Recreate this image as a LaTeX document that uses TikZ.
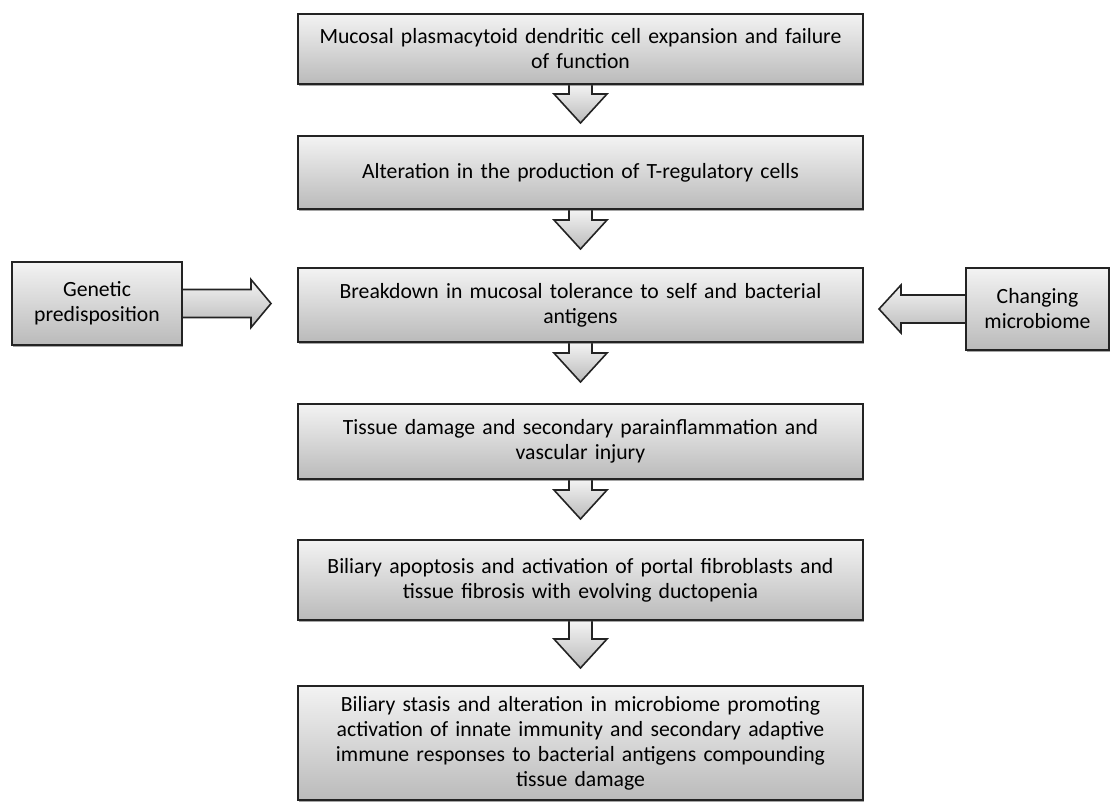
\documentclass[tikz,border=0pt]{standalone}
\usepackage{fontspec}
\setmainfont{Carlito}
\usepackage{xcolor}
\usepackage{tikz}
\usetikzlibrary{calc,backgrounds,shadows}
\definecolor{flow_edge}{RGB}{35, 35, 35}
\definecolor{flow_top}{RGB}{243, 243, 243}
\definecolor{flow_bottom}{RGB}{186, 186, 186}
\tikzset{
  flowbox/.style={draw=flow_edge, line width=2pt, top color=flow_top,
                  bottom color=flow_bottom, text width=548pt, align=center,
                  minimum width=565pt, inner sep=0pt,
                  drop shadow={shadow xshift=1pt, shadow yshift=-1.5pt,
                               fill=black!70, opacity=0.5},
                  font=\fontsize{21.7}{25}\selectfont},
  sidebox/.style={draw=flow_edge, line width=2pt, top color=flow_top,
                  bottom color=flow_bottom, align=center, inner sep=0pt,
                  drop shadow={shadow xshift=1pt, shadow yshift=-1.5pt,
                               fill=black!70, opacity=0.5},
                  font=\fontsize{21.7}{25}\selectfont},
  blockarrow/.style={draw=flow_edge, line width=1.6pt, top color=flow_top,
                     bottom color=flow_bottom, line join=miter}
}
\begin{document}
\begin{tikzpicture}[x=1pt, y=-1pt]
  \useasboundingbox (0,0) rectangle (1112,803);
  % main chain
  \node[flowbox, minimum height=70pt] (mucosal) at (580.5,49) {
    Mucosal plasmacytoid dendritic cell expansion and failure\\
    of function};
  \node[flowbox, minimum height=73pt] (treg) at (580.5,172.5) {
    Alteration in the production of T-regulatory cells};
  \node[flowbox, minimum height=74pt] (tolerance) at (580.5,305) {
    Breakdown in mucosal tolerance to self and bacterial\\
    antigens};
  \node[flowbox, minimum height=75pt] (damage) at (580.5,441.5) {
    Tissue damage and secondary parainflammation and\\
    vascular injury};
  \node[flowbox, minimum height=80pt] (apoptosis) at (580.5,580) {
    Biliary apoptosis and activation of portal fibroblasts and\\
    tissue fibrosis with evolving ductopenia};
  \node[flowbox, minimum height=114pt] (stasis) at (580.5,743) {
    Biliary stasis and alteration in microbiome promoting\\
    activation of innate immunity and secondary adaptive\\
    immune responses to bacterial antigens compounding\\
    tissue damage};
  % side inputs
  \node[sidebox, minimum width=170pt, minimum height=83pt] (genetic) at (97,303.5) {
    Genetic\\predisposition};
  \node[sidebox, minimum width=143pt, minimum height=82pt] (microbiome) at (1037.5,309) {
    Changing\\microbiome};
  \begin{scope}[on background layer]
    \foreach \a/\b/\len in {mucosal/treg/38, treg/tolerance/39,
        tolerance/damage/39, damage/apoptosis/39, apoptosis/stasis/47} {
      \coordinate (tip\a) at ($(\a.south)!\len pt!(\b.north)$);
      \draw[blockarrow] ($(\a.south)+(-11.5,0)$) -- ($(tip\a)+(-11.5,-29)$)
        -- ($(tip\a)+(-26.5,-29)$) -- (tip\a) -- ($(tip\a)+(26.5,-29)$)
        -- ($(tip\a)+(11.5,-29)$) -- ($(\a.south)+(11.5,0)$);
    }
    \coordinate (tipgenetic) at ($(genetic.east)!88pt!(genetic.east -| tolerance.west)$);
    \draw[blockarrow] ($(genetic.east)+(0,-14)$) -- ($(tipgenetic)+(-20,-14)$)
      -- ($(tipgenetic)+(-20,-24)$) -- (tipgenetic) -- ($(tipgenetic)+(-20,24)$)
      -- ($(tipgenetic)+(-20,14)$) -- ($(genetic.east)+(0,14)$);
    \coordinate (tipmicro) at ($(microbiome.west)!86pt!(microbiome.west -| tolerance.east)$);
    \draw[blockarrow] ($(microbiome.west)+(0,-14)$) -- ($(tipmicro)+(22,-14)$)
      -- ($(tipmicro)+(22,-24)$) -- (tipmicro) -- ($(tipmicro)+(22,24)$)
      -- ($(tipmicro)+(22,14)$) -- ($(microbiome.west)+(0,14)$);
  \end{scope}
\end{tikzpicture}
\end{document}
